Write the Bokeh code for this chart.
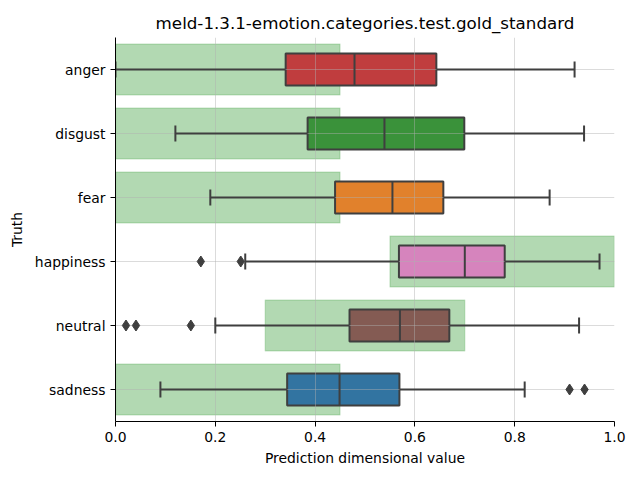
from bokeh.plotting import figure
from bokeh.models import Range1d, FixedTicker, PrintfTickFormatter
from bokeh.embed import file_html
from bokeh.resources import INLINE

categories = ["anger", "disgust", "fear", "happiness", "neutral", "sadness"]
q1 = [0.341, 0.385, 0.440, 0.568, 0.469, 0.344]
median = [0.479, 0.539, 0.555, 0.700, 0.570, 0.449]
q3 = [0.643, 0.699, 0.657, 0.780, 0.669, 0.569]
whisker_lo = [0.0, 0.120, 0.190, 0.260, 0.200, 0.090]
whisker_hi = [0.920, 0.939, 0.870, 0.970, 0.929, 0.820]
outlier_cat = ["happiness", "happiness", "neutral", "neutral", "neutral", "sadness", "sadness"]
outlier_val = [0.171, 0.251, 0.021, 0.041, 0.151, 0.910, 0.940]
gold_lo = [0.0, 0.0, 0.0, 0.55, 0.30, 0.0]
gold_hi = [0.45, 0.45, 0.45, 1.0, 0.70, 0.45]
box_colors = ["#c03d3e", "#3a923a", "#e1812c", "#d684bd", "#845b53", "#3274a1"]
x_ticks = [0.0, 0.2, 0.4, 0.6, 0.8, 1.0]

FONT = "DejaVu Sans"
EDGE = "#3f3f3f"

ypos = list(range(len(categories)))
out_y = [categories.index(c) for c in outlier_cat]

p = figure(width=632, height=472, output_backend="svg", toolbar_location=None,
           x_range=Range1d(0, 1), y_range=Range1d(len(categories) - 0.5, -0.5),
           min_border_left=115, min_border_right=18, min_border_top=37, min_border_bottom=51,
           title="meld-1.3.1-emotion.categories.test.gold_standard")
p.outline_line_color = None
p.background_fill_color = "white"

# gold standard ranges (below the grid)
p.hbar(y=ypos, left=gold_lo, right=gold_hi, height=0.8,
       fill_color="green", fill_alpha=0.3, line_color="green", line_alpha=0.15, line_width=1.5,
       level="image")

# boxes (below the grid)
p.hbar(y=ypos, left=q1, right=q3, height=0.5, fill_color=box_colors,
       line_color=EDGE, line_width=2, level="image")

# whiskers
p.segment(x0=whisker_lo, y0=ypos, x1=q1, y1=ypos, line_color=EDGE, line_width=2)
p.segment(x0=q3, y0=ypos, x1=whisker_hi, y1=ypos, line_color=EDGE, line_width=2)
caps_y0 = [y - 0.125 for y in ypos]
caps_y1 = [y + 0.125 for y in ypos]
p.segment(x0=whisker_lo, y0=caps_y0, x1=whisker_lo, y1=caps_y1, line_color=EDGE, line_width=2)
p.segment(x0=whisker_hi, y0=caps_y0, x1=whisker_hi, y1=caps_y1, line_color=EDGE, line_width=2)

# medians
p.segment(x0=median, y0=[y - 0.25 for y in ypos], x1=median, y1=[y + 0.25 for y in ypos],
          line_color=EDGE, line_width=2)

# outliers
p.scatter(x=outlier_val, y=out_y, marker="diamond", size=11, fill_color=EDGE, line_color=EDGE)

# axes
p.xaxis.ticker = FixedTicker(ticks=x_ticks)
p.xaxis.formatter = PrintfTickFormatter(format="%.1f")
p.yaxis.ticker = FixedTicker(ticks=ypos)
p.yaxis.major_label_overrides = {i: c for i, c in enumerate(categories)}
p.xaxis.axis_label = "Prediction dimensional value"
p.yaxis.axis_label = "Truth"
for ax in (p.xaxis[0], p.yaxis[0]):
    ax.axis_line_color = "black"
    ax.axis_line_width = 1
    ax.major_tick_line_color = "black"
    ax.major_tick_out = 5
    ax.major_tick_in = 0
    ax.minor_tick_out = 0
    ax.minor_tick_in = 0
    ax.major_label_text_font = FONT
    ax.major_label_text_font_size = "13.9px"
    ax.major_label_text_color = "black"
    ax.axis_label_text_font = FONT
    ax.axis_label_text_font_size = "13.9px"
    ax.axis_label_text_font_style = "normal"
    ax.axis_label_text_color = "black"
    ax.major_label_standoff = 5
p.xaxis.axis_label_standoff = 5
p.yaxis.axis_label_standoff = 7

for g in (p.xgrid[0], p.ygrid[0]):
    g.grid_line_color = "#b0b0b0"
    g.grid_line_alpha = 0.45
    g.grid_line_width = 1
    g.level = "underlay"
p.ygrid.ticker = FixedTicker(ticks=ypos)
p.xgrid.ticker = FixedTicker(ticks=x_ticks)

p.title.text_font = FONT
p.title.text_font_size = "16.7px"
p.title.text_font_style = "normal"
p.title.align = "center"
p.title.text_color = "black"

open("out.html", "w").write(file_html(p, INLINE))
